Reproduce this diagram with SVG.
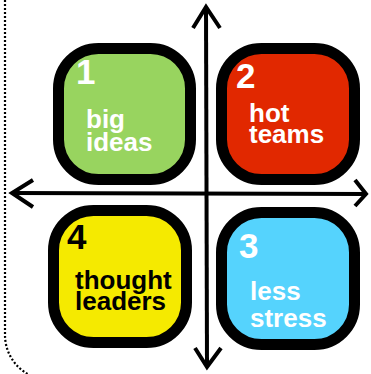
<svg xmlns="http://www.w3.org/2000/svg" width="371" height="374" viewBox="0 0 371 374">
<style>
.box{stroke:#000;stroke-width:11}
.num{font-family:"Liberation Sans",Arial,sans-serif;font-weight:bold;font-size:35px}
.lbl{font-family:"Liberation Sans",Arial,sans-serif;font-weight:bold;font-size:26px}
.w{fill:#fff}
.k{fill:#000}
.ax{stroke:#000;stroke-width:4;fill:none;stroke-linecap:butt;stroke-linejoin:miter}
</style>
<rect width="371" height="374" fill="#fff"/>
<path d="M5,0 V335 A45,45 0 0 0 27.6,374" fill="none" stroke="#000" stroke-width="2.2" stroke-dasharray="2 2"/>
<g id="connectors">
<line class="ax" x1="206" y1="7" x2="207" y2="367"/>
<polyline class="ax" points="193,28 206,7 220,28"/>
<polyline class="ax" points="195,348 207,367 221,348"/>
<line class="ax" x1="12" y1="193" x2="366" y2="194"/>
<polyline class="ax" points="33,180 12,193 33,207"/>
<polyline class="ax" points="355,180 366,194 355,206"/>
</g>
<g id="node1">
<rect class="box" x="58.5" y="48.5" width="132" height="131" rx="40" fill="#98D45F"/>
<text class="num w" x="76" y="84">1</text>
<text class="lbl w" x="86" y="128">big</text>
<text class="lbl w" x="86" y="151">ideas</text>
</g>
<g id="node2">
<rect class="box" x="221.5" y="48.5" width="133" height="131" rx="40" fill="#E12800"/>
<text class="num w" x="236" y="88">2</text>
<text class="lbl w" x="249" y="122">hot</text>
<text class="lbl w" x="249" y="143">teams</text>
</g>
<g id="node4">
<rect class="box" x="53.5" y="210.5" width="133" height="132" rx="40" fill="#F5EA00"/>
<text class="num k" x="67" y="249">4</text>
<text class="lbl k" x="75" y="289">thought</text>
<text class="lbl k" x="75" y="310">leaders</text>
</g>
<g id="node3">
<rect class="box" x="221.5" y="212.5" width="133" height="132" rx="40" fill="#55D3FD"/>
<text class="num w" x="239" y="258">3</text>
<text class="lbl w" x="250" y="300">less</text>
<text class="lbl w" x="250" y="327">stress</text>
</g>
</svg>
